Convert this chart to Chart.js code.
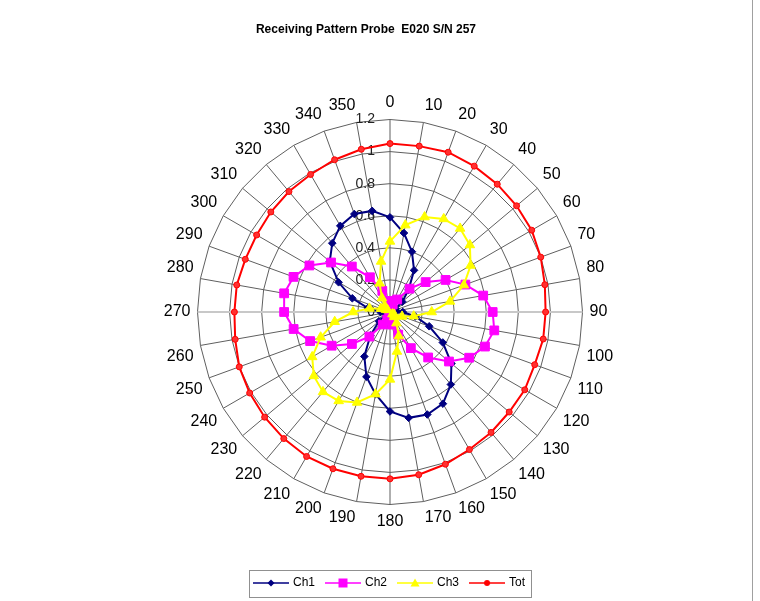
<!DOCTYPE html>
<html>
<head>
<meta charset="utf-8">
<script src="https://cdn.jsdelivr.net/npm/chart.js@4.4.1/dist/chart.umd.min.js"></script>
<style>
  html, body { margin: 0; padding: 0; background: #fff; }
  #wrap { position: relative; width: 760px; height: 601px; }
  #frame { position: absolute; left: 752px; top: 0; width: 1px; height: 601px; background: #a0a0a0; }
</style>
</head>
<body>
<div id="wrap">
  <canvas id="radar" width="760" height="601"></canvas>
  <div id="frame"></div>
</div>
<script>
const titleText = 'Receiving Pattern Probe  E020 S/N 257';
const angles = ['0','10','20','30','40','50','60','70','80','90','100','110','120','130','140','150','160','170',
                '180','190','200','210','220','230','240','250','260','270','280','290','300','310','320','330','340','350'];
const ch1 = [0.59,0.50,0.40,0.30,0.18,0.10,0.04,0.02,0.04,0.08,0.16,0.26,0.38,0.50,0.59,0.66,0.68,0.67,
             0.62,0.52,0.43,0.32,0.19,0.09,0.03,0.01,0.02,0.06,0.14,0.25,0.37,0.49,0.56,0.62,0.65,0.64];
const ch2 = [0.03,0.03,0.05,0.09,0.19,0.29,0.40,0.50,0.59,0.64,0.66,0.63,0.57,0.48,0.37,0.26,0.15,0.08,
             0.04,0.03,0.05,0.09,0.20,0.31,0.42,0.53,0.61,0.66,0.67,0.64,0.58,0.48,0.37,0.25,0.14,0.07];
const ch3 = [0.44,0.55,0.63,0.67,0.68,0.65,0.58,0.49,0.38,0.26,0.15,0.08,0.03,0.02,0.04,0.08,0.16,0.25,
             0.42,0.52,0.60,0.64,0.65,0.62,0.56,0.46,0.35,0.23,0.13,0.06,0.03,0.02,0.05,0.10,0.19,0.32];
const tot = [1.05,1.05,1.06,1.05,1.04,1.03,1.02,1.00,0.98,0.97,0.97,0.96,0.97,0.97,0.98,0.99,1.01,1.03,
             1.04,1.04,1.04,1.04,1.03,1.02,1.01,1.00,0.98,0.97,0.97,0.96,0.96,0.97,0.98,0.99,1.01,1.03];
const radialTicks = [0, 0.2, 0.4, 0.6, 0.8, 1, 1.2];

const FONT = 'Liberation Sans, Arial, sans-serif';

// little line+marker pictures for the legend, like Excel's
function legendIcon(color, shape, size) {
    const c = document.createElement('canvas');
    c.width = 36; c.height = 14;
    const g = c.getContext('2d');
    g.strokeStyle = color;
    g.fillStyle = color;
    g.lineWidth = 1.5;
    g.beginPath(); g.moveTo(0, 7); g.lineTo(36, 7); g.stroke();
    g.beginPath();
    if (shape === 'diamond') {
        g.moveTo(18, 7 - size); g.lineTo(18 + size, 7); g.lineTo(18, 7 + size); g.lineTo(18 - size, 7);
    } else if (shape === 'square') {
        g.rect(18 - size, 7 - size, size * 2, size * 2);
    } else if (shape === 'triangle') {
        g.moveTo(18, 7 - size); g.lineTo(18 + size, 7 + size * 0.8); g.lineTo(18 - size, 7 + size * 0.8);
    } else {
        g.arc(18, 7, size, 0, Math.PI * 2);
    }
    g.closePath();
    g.fill();
    return c;
}

const icons = [
    legendIcon('#000080', 'diamond', 3.5),
    legendIcon('#FF00FF', 'square', 4.5),
    legendIcon('#FFFF00', 'triangle', 4.5),
    legendIcon('#FF0000', 'circle', 3)
];

const extras = {
    id: 'extras',
    beforeDatasetsDraw(chart) {
        const r = chart.scales.r;
        const ctx = chart.ctx;
        ctx.save();
        ctx.font = '14px ' + FONT;
        ctx.fillStyle = '#222';
        ctx.textAlign = 'right';
        ctx.textBaseline = 'middle';
        radialTicks.forEach(v => {
            const y = r.yCenter - r.getDistanceFromCenterForValue(v);
            ctx.fillText(String(v), r.xCenter - 15, y);
        });
        ctx.restore();
    },
    afterDraw(chart) {
        const ctx = chart.ctx;
        ctx.save();
        ctx.font = 'bold 12px ' + FONT;
        ctx.fillStyle = '#000';
        ctx.textAlign = 'center';
        ctx.textBaseline = 'middle';
        ctx.fillText(titleText, 366, 30);
        // box around legend
        const hb = chart.legend.legendHitBoxes;
        if (hb && hb.length) {
            const first = hb[0], last = hb[hb.length - 1];
            const l = Math.round(first.left - 6) + 0.5;
            const rr = Math.round(last.left + last.width + 6) + 0.5;
            const cy = first.top + first.height / 2;
            const t = Math.round(cy - 13) + 0.5;
            const b = Math.round(cy + 14) + 0.5;
            ctx.strokeStyle = '#909090';
            ctx.lineWidth = 1;
            ctx.strokeRect(l, t, rr - l, b - t);
        }
        ctx.restore();
    }
};

new Chart(document.getElementById('radar'), {
    type: 'radar',
    data: {
        labels: angles,
        datasets: [
            {
                label: 'Ch1', data: ch1, order: 4,
                borderColor: '#000080', backgroundColor: '#000080', borderWidth: 2,
                pointStyle: 'rectRot', pointRadius: 3.8, pointBackgroundColor: '#000080', pointBorderWidth: 1
            },
            {
                label: 'Ch2', data: ch2, order: 3,
                borderColor: '#FF00FF', backgroundColor: '#FF00FF', borderWidth: 2,
                pointStyle: 'rect', pointRadius: 6.2, pointBackgroundColor: '#FF00FF', pointBorderWidth: 1
            },
            {
                label: 'Ch3', data: ch3, order: 2,
                borderColor: '#FFFF00', backgroundColor: '#FFFF00', borderWidth: 2,
                pointStyle: 'triangle', pointRadius: 5.5, pointBackgroundColor: '#FFFF00', pointBorderWidth: 1
            },
            {
                label: 'Tot', data: tot, order: 1,
                borderColor: '#FF0000', backgroundColor: '#FF0000', borderWidth: 2,
                pointStyle: 'circle', pointRadius: 3, pointBackgroundColor: '#FF3030', pointBorderWidth: 1
            }
        ]
    },
    options: {
        responsive: false,
        animation: false,
        layout: { padding: { left: 20, right: 0, top: 93.3, bottom: 2 } },
        elements: { line: { tension: 0, fill: false } },
        scales: {
            r: {
                min: 0,
                max: 1.2,
                ticks: { display: false, stepSize: 0.2 },
                grid: { color: '#5f5f5f', lineWidth: 1, circular: false },
                angleLines: {
                    color: c => (c.index % 18 === 9 ? '#c8c8c8' : '#5f5f5f'),
                    lineWidth: c => (c.index % 18 === 9 ? 2 : 1)
                },
                pointLabels: {
                    color: '#000',
                    padding: 7,
                    font: { size: 16, family: FONT }
                }
            }
        },
        plugins: {
            title: { display: false },
            tooltip: { enabled: false },
            legend: {
                position: 'bottom',
                title: { display: true, text: '', font: { size: 12 }, padding: { top: 0, bottom: 19 } },
                labels: {
                    usePointStyle: true,
                    pointStyleWidth: 32,
                    padding: 12,
                    color: '#000',
                    font: { size: 12, family: FONT },
                    generateLabels: chart => chart.data.datasets.map((ds, i) => ({
                        text: ds.label,
                        pointStyle: icons[i],
                        fillStyle: ds.borderColor,
                        strokeStyle: ds.borderColor,
                        lineWidth: 0,
                        hidden: false,
                        datasetIndex: i,
                        fontColor: '#000'
                    }))
                }
            }
        }
    },
    plugins: [extras]
});
</script>
</body>
</html>
